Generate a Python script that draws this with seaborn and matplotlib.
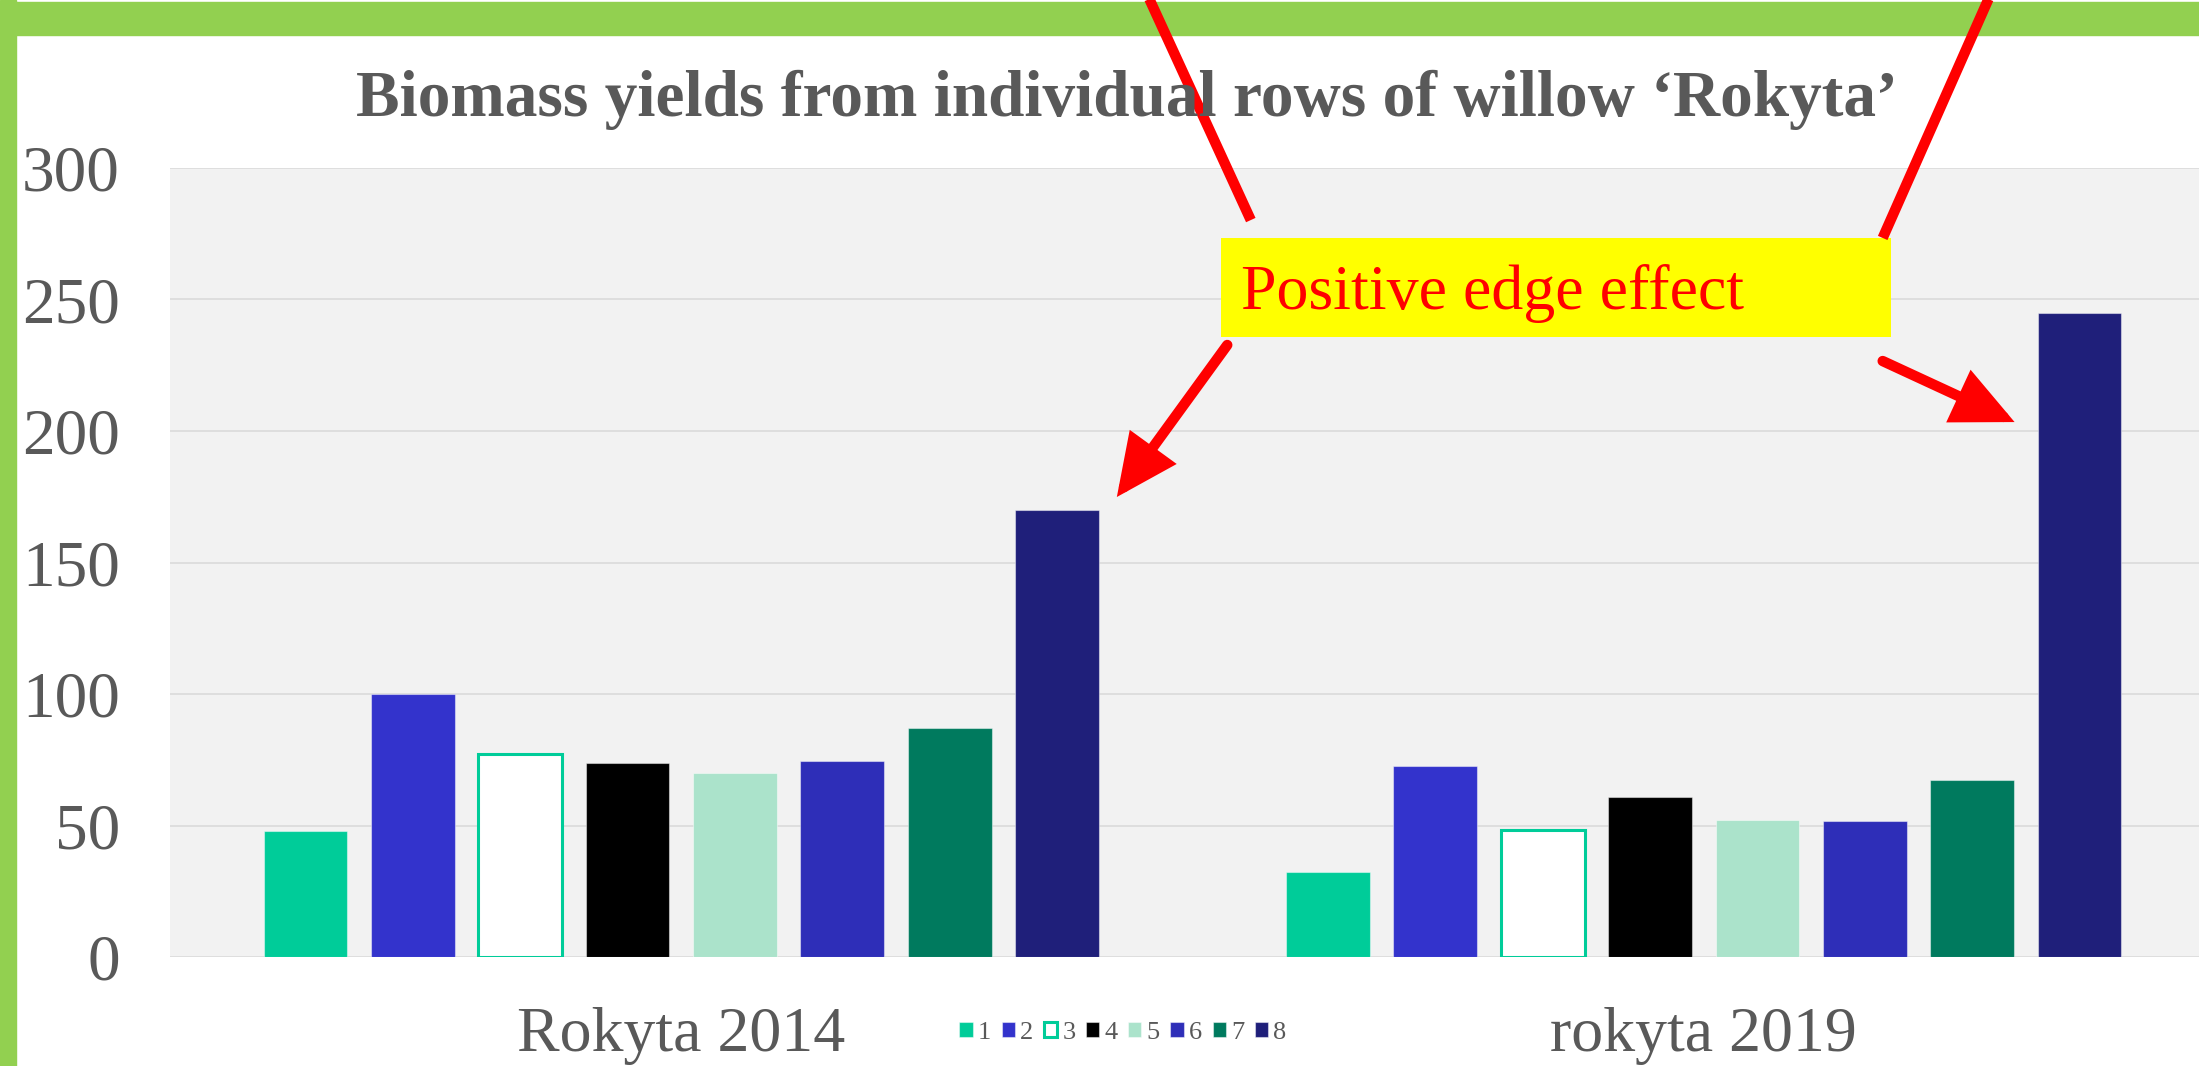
import matplotlib
matplotlib.use("Agg")
import matplotlib.pyplot as plt
import seaborn as sns
import pandas as pd
from matplotlib.patches import Rectangle

# chart data
plantings = ['Rokyta 2014', 'rokyta 2019']
rows = ['1', '2', '3', '4', '5', '6', '7', '8']
yield_2014 = [48, 100, 77.2, 73.8, 70, 74.7, 87, 170]
yield_2019 = [32.3, 72.6, 48.3, 60.8, 52.1, 51.8, 67.3, 245]
row_colors = ['#00CC99', '#3333CC', '#FFFFFF', '#000000',
              '#ABE3CB', '#2E2EB8', '#007A5E', '#1F1F7A']
y_ticks = [0, 50, 100, 150, 200, 250, 300]

df = pd.DataFrame({
    'planting': [plantings[0]] * len(rows) + [plantings[1]] * len(rows),
    'row': rows + rows,
    'yield': yield_2014 + yield_2019,
})

sns.set_theme(style="white")
plt.rcParams['font.family'] = ['Liberation Serif', 'DejaVu Serif']
gray = '#595959'

fig = plt.figure(figsize=(21.99, 10.66), dpi=100)
ax = fig.add_axes([170 / 2199, 1 - 957 / 1066, 2045 / 2199, 789 / 1066])
ax.set_facecolor('#F2F2F2')

sns.barplot(data=df, x='planting', y='yield', hue='row',
            order=plantings, hue_order=rows, palette=row_colors,
            saturation=1, width=0.84, gap=0.22, legend=False, ax=ax)

# thin light edges, row 3 hollow with teal outline
for i, cont in enumerate(ax.containers):
    for bar in cont.patches:
        if rows[i] == '3':
            bar.set_edgecolor('#00CC99')
            bar.set_linewidth(2.2)
        else:
            bar.set_edgecolor((1, 1, 1, 0.45))
            bar.set_linewidth(0.8)

ax.set_xlim(-0.5, 1.5)
ax.set_ylim(0, 300)
ax.set_yticks(y_ticks)
ax.set_axisbelow(True)
ax.grid(axis='y', color='#D9D9D9', lw=1.1)
ax.grid(axis='x', visible=False)
for s in ax.spines.values():
    s.set_visible(False)
ax.tick_params(axis='y', length=0, pad=36, labelsize=47, labelcolor=gray)
ax.tick_params(axis='x', length=0, pad=36, labelsize=46, labelcolor=gray)
ax.set_xlabel('')
ax.set_ylabel('')

# title
fig.text(1127 / 2199, 1 - 116 / 1066,
         'Biomass yields from individual rows of willow \u2018Rokyta\u2019',
         ha='center', va='baseline', fontsize=47, fontweight='bold', color=gray)

# legend
fig.legend(handles=ax.containers, labels=rows, loc='center',
           bbox_to_anchor=(1123 / 2199, 1 - 1033 / 1066), ncol=8,
           frameon=False, fontsize=19, labelcolor=gray,
           handlelength=0.5, handleheight=0.5, handletextpad=0.2,
           columnspacing=0.4, borderpad=0)

# green frame on top and left
fig.patches.append(Rectangle((0, 1 - 35 / 1066), 1, 33 / 1066,
                             transform=fig.transFigure, color='#92D050', zorder=-1))
fig.patches.append(Rectangle((0, 0), 16 / 2199, 1,
                             transform=fig.transFigure, color='#92D050', zorder=-1))

# annotation box
ax.add_patch(Rectangle((0.5276, 235.7), 0.6554, 37.7, color='#FFFF00',
                       zorder=5, lw=0))
ax.text(0.547, 246.4, 'Positive edge effect', color='red', fontsize=46,
        va='baseline', ha='left', zorder=6)

# red lines and arrows
ax.plot([0.451, 0.557], [370, 280.2], color='red', lw=7.5,
        solid_capstyle='butt', clip_on=False, zorder=6)
ax.plot([1.285, 1.175], [370, 273.4], color='red', lw=7.5,
        solid_capstyle='butt', clip_on=False, zorder=6)
arrow = dict(arrowstyle='-|>,head_length=32,head_width=15', mutation_scale=1,
             lw=7.5, color='red', shrinkA=0, shrinkB=0, joinstyle='miter')
ax.annotate('', xy=(0.426, 174.9), xytext=(0.534, 232.7), arrowprops=arrow,
            zorder=6)
ax.annotate('', xy=(1.304, 203.4), xytext=(1.175, 226.6), arrowprops=arrow,
            zorder=6)

fig.savefig('out.png', dpi=100)
